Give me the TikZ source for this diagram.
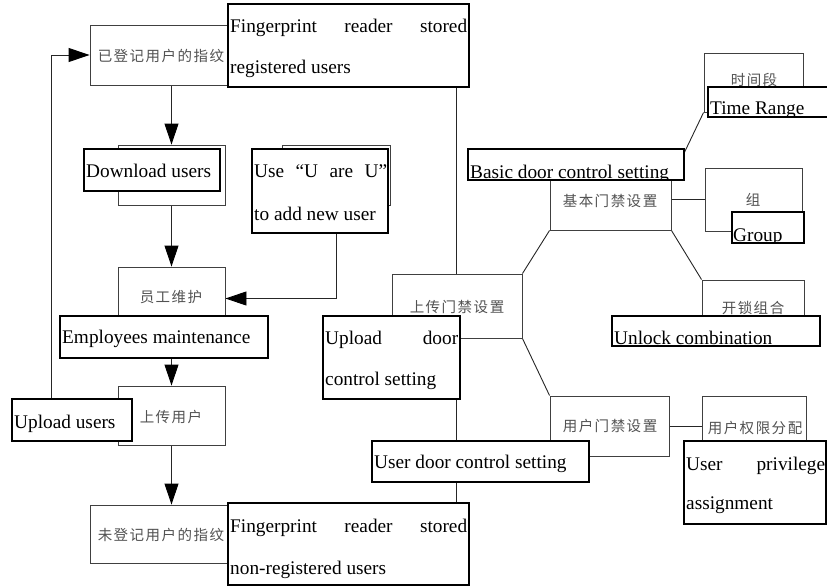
\documentclass[tikz,border=0pt]{standalone}
\usepackage{fontspec}
\setmainfont{Liberation Serif}
\newfontfamily\zhfont{Noto Sans CJK SC}
\usetikzlibrary{arrows.meta,fit,backgrounds}
\def\zhsp#1{\ifx#1\relax\else#1\hspace{1.5pt}\expandafter\zhsp\fi}
\tikzset{
 zhbox/.style={draw=black!75, line width=0.9pt, fill=white, inner sep=0pt},
 enbox/.style={draw=black, line width=1.7pt, fill=white, inner sep=0pt},
 conn/.style={draw=black!85, line width=0.9pt},
 arr/.style={conn, -{Triangle[length=21pt,width=14pt,color=black,fill=black]}},
 en/.style={font=\fontsize{19.3}{22}\selectfont, inner sep=0pt, anchor=base west},
 zh/.style={font=\zhfont\fontsize{14.5}{16}\selectfont, text=black!68, inner sep=0pt},
}
\begin{document}
\begin{tikzpicture}[x=1pt,y=-1pt]
\useasboundingbox (0,0) rectangle (827,586);
% Chinese boxes
\node[zhbox, fit={(90,25)(228,85)}] (A) {};
\node[zhbox, fit={(118,145)(225,205)}] (dlb) {};
\node[zhbox, fit={(282,145)(390,205)}] (uab) {};
\node[zhbox, fit={(118,267)(225,330)}] (ygwh) {};
\node[zhbox, fit={(118,386)(225,445)}] (scyh) {};
\node[zhbox, fit={(90,505)(228,563)}] (wdj) {};
\node[zhbox, fit={(392,274)(522,338)}] (scmj) {};
\node[zhbox, fit={(550,180)(671,230)}] (jbmj) {};
\node[zhbox, fit={(704,53)(803,112)}] (sjd) {};
\node[zhbox, fit={(705,168)(802,231)}] (zu) {};
\node[zhbox, fit={(702,280)(804,325)}] (ksz) {};
\node[zhbox, fit={(550,396)(669,456)}] (yhmj) {};
\node[zhbox, fit={(702,396)(806,445)}] (yhqx) {};
% Chinese texts
\node[zh] (tA) at (161,56) {\zhsp 已登记用户的指纹\relax};
\node[zh] (tygwh) at (171,297) {\zhsp 员工维护\relax};
\node[zh] (tscyh) at (171,417) {\zhsp 上传用户\relax};
\node[zh] (twdj) at (161,535) {\zhsp 未登记用户的指纹\relax};
\node[zh] (tscmj) at (457,307) {\zhsp 上传门禁设置\relax};
\node[zh] (tjbmj) at (610,201) {\zhsp 基本门禁设置\relax};
\node[zh] (tsjd) at (754,80) {\zhsp 时间段\relax};
\node[zh] (tzu) at (753,200) {\zhsp 组\relax};
\node[zh] (tksz) at (753,308) {\zhsp 开锁组合\relax};
\node[zh] (tyhmj) at (610,426) {\zhsp 用户门禁设置\relax};
\node[zh] (tyhqx) at (755,428) {\zhsp 用户权限分配\relax};
% English boxes
\node[enbox, fit={(228,4)(469,87)}] (B) {};
\node[en] (tB1) at (230,33) {\makebox[237pt][s]{Fingerprint reader stored}};
\node[en] (tB2) at (230,74) {registered users};
\node[enbox, fit={(84,149)(220,191)}] (dl) {};
\node[en] (tdl) at (86,177) {Download users};
\node[enbox, fit={(252,149)(388,233)}] (ua) {};
\node[en] (tua1) at (254,177) {\makebox[133pt][s]{Use “U are U”}};
\node[en] (tua2) at (254,220) {to add new user};
\node[enbox, fit={(60,316)(268,358)}] (em) {};
\node[en] (tem) at (62,343) {Employees maintenance};
\node[enbox, fit={(12,399)(132,441)}] (uu) {};
\node[en] (tuu) at (14,428) {Upload users};
\node[enbox, fit={(228,503)(469,585)}] (nr) {};
\node[en] (tnr1) at (230,532) {\makebox[237pt][s]{Fingerprint reader stored}};
\node[en] (tnr2) at (230,574) {non-registered users};
\node[enbox, fit={(323,316)(460,399)}] (ud) {};
\node[en] (tud1) at (325,344) {\makebox[133pt][s]{Upload door}};
\node[en] (tud2) at (325,385) {control setting};
\node[enbox, fit={(372,441)(589,482)}] (udc) {};
\node[en] (tudc) at (374,468) {User door control setting};
\node[enbox, fit={(684,441)(826,524)}] (up) {};
\node[en] (tup1) at (686,470) {\makebox[139pt][s]{User privilege}};
\node[en] (tup2) at (686,509) {assignment};
\node[enbox, fit={(468,149)(684,180)}] (bd) {};
\begin{scope}\clip (bd.north west) rectangle (bd.south east);
\node[en] (tbd) at (470,178) {Basic door control setting};
\end{scope}
\node[enbox, fit={(708,87)(835,117)}] (tr) {};
\begin{scope}\clip (tr.north west) rectangle (tr.south east);
\node[en] (ttr) at (710,114) {Time Range};
\end{scope}
\node[enbox, fit={(732,212)(804,243)}] (gr) {};
\begin{scope}\clip (gr.north west) rectangle (gr.south east);
\node[en] (tgr) at (733,241) {Group};
\end{scope}
\node[enbox, fit={(612,316)(820,346)}] (uc) {};
\begin{scope}\clip (uc.north west) rectangle (uc.south east);
\node[en] (tuc) at (614,344) {Unlock combination};
\end{scope}
% connectors
\coordinate (vx) at (456,0);
\begin{pgfonlayer}{background}
\draw[arr] (uu.north west) ++(40,0) |- (A.west);
\draw[arr] (dlb.north |- A.south) -- (dlb.north);
\draw[arr] (dlb.south) -- (ygwh.north);
\draw[arr] (ua.south west) ++(85,0) |- (ygwh.east);
\draw[arr] (scyh.north |- em.south) -- (scyh.north);
\draw[arr] (scyh.south) -- (scyh.south |- wdj.north);
\draw[conn] (vx |- B.south) -- (vx |- scmj.north);
\draw[conn] (vx |- scmj.south) -- (vx |- nr.north);
\draw[conn] (scmj.north east) -- (jbmj.south west);
\draw[conn] (scmj.south east) -- (yhmj.north west);
\draw[conn] (jbmj.north east) -- (sjd.south west);
\draw[conn] (jbmj.east |- zu.west) -- (zu.west);
\draw[conn] (jbmj.south east) -- (ksz.north west);
\draw[conn] (yhmj.east) -- (yhqx.west |- yhmj.east);
\end{pgfonlayer}
\end{tikzpicture}
\end{document}
